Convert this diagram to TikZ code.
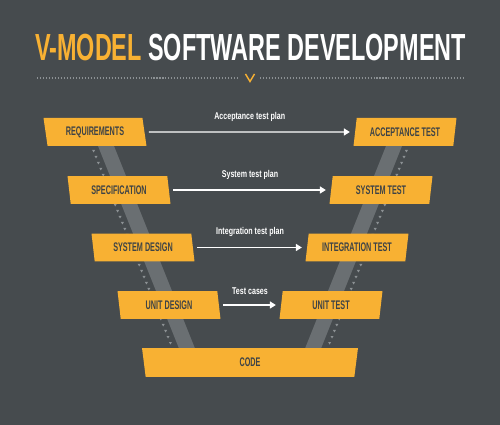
\documentclass[tikz,border=0pt]{standalone}
\usepackage{fontspec}
\newfontfamily\dinfont[FakeStretch=0.62]{Liberation Sans}
\newfontfamily\boxfont[FakeStretch=0.58]{Liberation Sans}
\newfontfamily\planfont[FakeStretch=0.72]{Liberation Sans}
\usetikzlibrary{shapes.geometric,arrows.meta}
\definecolor{bgcol}{HTML}{464B4E}
\definecolor{vyellow}{HTML}{F8B133}
\definecolor{vband}{HTML}{6A6F72}
\definecolor{vdots}{HTML}{8C9194}
\definecolor{vtext}{HTML}{3E4346}
\tikzset{
  phase/.style={trapezium, trapezium stretches body, fill=vyellow, inner sep=0pt,
    minimum width=2.06cm, minimum height=0.56cm, text=vtext,
    font=\boxfont\bfseries\fontsize{7.1}{8}\selectfont},
  leftphase/.style={phase, trapezium left angle=110, trapezium right angle=70},
  rightphase/.style={phase, trapezium left angle=70, trapezium right angle=110},
  plan/.style={draw=white, line width=0.85pt, -{Triangle[length=3.4pt,width=4pt]},
    shorten <=2.3pt, shorten >=2.8pt},
  planlabel/.style={text=white, font=\planfont\bfseries\fontsize{5.6}{7}\selectfont, above=2.3pt}
}
\begin{document}
\begin{tikzpicture}[x=0.02cm, y=-0.02cm]
\fill [bgcol] (0,0) rectangle (500,425);
% title
\node [text=white, inner sep=0pt] (title) at (250.5,47.5)
  {\dinfont\bfseries\fontsize{21.5}{24}\selectfont\textcolor{vyellow}{V-MODEL} SOFTWARE DEVELOPMENT};
\draw [vdots, line width=0.6pt, dash pattern=on 0.6pt off 1.1pt] (37,78) -- (240,78);
\draw [vdots, line width=0.6pt, dash pattern=on 0.6pt off 1.1pt] (260,78) -- (464,78);
\draw [vyellow, line width=0.8pt] (245.5,74) -- (250,81.5) -- (254.5,74);
% the V
\fill [vband] (91.6,130) -- (107.6,130) -- (199.6,360) -- (183.6,360) -- cycle;
\fill [vband] (408.4,130) -- (392.4,130) -- (300.4,360) -- (316.4,360) -- cycle;
\foreach \y in {150,156,...,344} {
  \fill [vdots] ({90.5+0.4*(\y-146)},\y) -- ++(3,0) -- ++(-1.5,2.5) -- cycle;
  \fill [vdots] ({406.5-0.4*(\y-146)},\y) -- ++(3,0) -- ++(-1.5,2.5) -- cycle;
}
% phases
\node [leftphase] (req) at (95,132) {REQUIREMENTS};
\node [leftphase] (spec) at (119,190) {SPECIFICATION};
\node [leftphase] (sysd) at (143,247.5) {SYSTEM DESIGN};
\node [leftphase] (unitd) at (169,305) {UNIT DESIGN};
\node [rightphase] (acc) at (405,132) {ACCEPTANCE TEST};
\node [rightphase] (syst) at (381,190) {SYSTEM TEST};
\node [rightphase] (intt) at (357,247.5) {INTEGRATION TEST};
\node [rightphase] (unitt) at (331,305) {UNIT TEST};
\node [phase, shape border rotate=180, trapezium angle=67.5,
  minimum width=4.32cm, minimum height=0.58cm] (code) at (250,362.5) {CODE};
% test plans
\draw [plan] (req.east) -- (acc.west) node [planlabel, midway] {Acceptance test plan};
\draw [plan] (spec.east) -- (syst.west) node [planlabel, midway] {System test plan};
\draw [plan] (sysd.east) -- (intt.west) node [planlabel, midway] {Integration test plan};
\draw [plan] (unitd.east) -- (unitt.west) node [planlabel, midway] {Test cases};
\end{tikzpicture}
\end{document}
